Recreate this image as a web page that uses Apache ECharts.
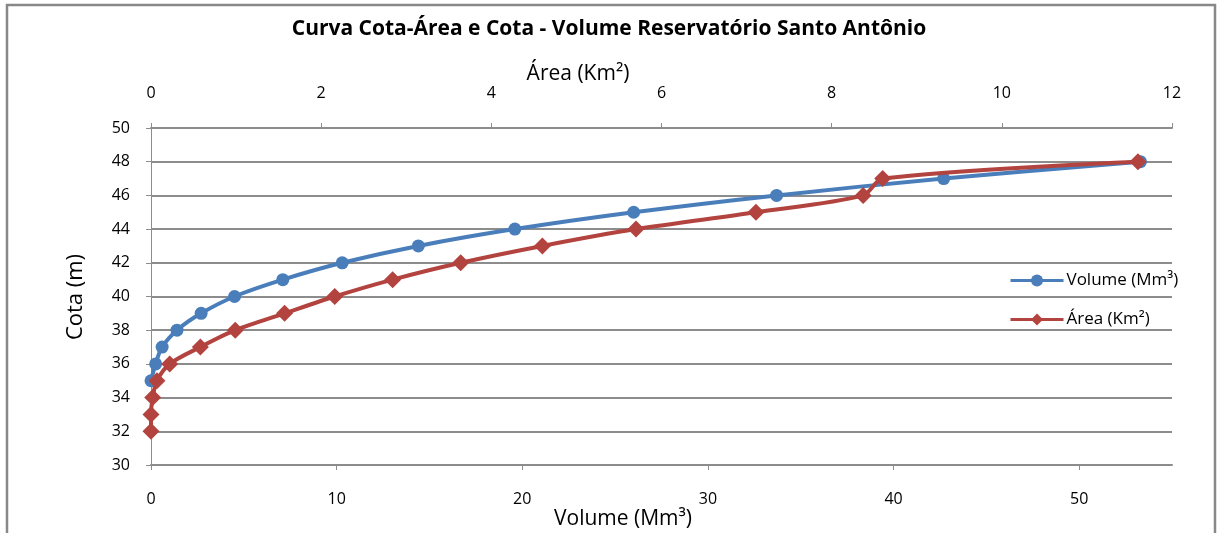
<!DOCTYPE html>
<html>
<head>
<meta charset="utf-8">
<script src="https://cdn.jsdelivr.net/npm/echarts@6/dist/echarts.min.js"></script>
<style>
html,body{margin:0;padding:0;background:#fff;}
#chart{width:1218px;height:533px;}
</style>
</head>
<body>
<div id="chart"></div>
<script>
const titleText = 'Curva Cota-Área e Cota - Volume Reservatório Santo Antônio';
const volumeName = 'Volume (Mm³)';
const areaName = 'Área (Km²)';
const cotaName = 'Cota (m)';

const volumeCota = [35, 36, 37, 38, 39, 40, 41, 42, 43, 44, 45, 46, 47, 48];
const volumeValues = [0.0, 0.25, 0.6, 1.4, 2.7, 4.5, 7.1, 10.3, 14.4, 19.6, 26.0, 33.7, 42.7, 53.3];

const areaCota = [32, 33, 34, 35, 36, 37, 38, 39, 40, 41, 42, 43, 44, 45, 46, 47, 48];
const areaValues = [0.0, 0.0, 0.02, 0.07, 0.22, 0.58, 0.99, 1.57, 2.16, 2.84, 3.64, 4.6, 5.7, 7.11, 8.37, 8.6, 11.6];

const gridColor = '#8c8c8c';
const fontFam = '"Open Sans", "DejaVu Sans", sans-serif';

const chart = echarts.init(document.getElementById('chart'));
chart.setOption({
  animation: false,
  backgroundColor: '#fff',
  title: {
    text: titleText,
    left: 'center',
    top: 14,
    textStyle: {fontFamily: fontFam, fontSize: 21, fontWeight: 'bold', color: '#000'}
  },
  legend: {
    orient: 'vertical',
    left: 1004,
    top: 267,
    itemGap: 22,
    itemWidth: 53,
    itemHeight: 15,
    lineStyle: {width: 3},
    textStyle: {fontFamily: fontFam, fontSize: 17, color: '#000', padding: [0, 0, 0, -2]},
    data: [volumeName, areaName]
  },
  grid: {left: 151, right: 46, top: 128, bottom: 68, containLabel: false},
  xAxis: [
    {
      type: 'value', position: 'bottom', min: 0, max: 55, interval: 10,
      axisLine: {show: true, lineStyle: {color: gridColor, width: 2}},
      axisTick: {show: true, length: 5, lineStyle: {color: gridColor, width: 1}},
      axisLabel: {fontFamily: fontFam, fontSize: 16, color: '#000', margin: 26, showMaxLabel: false},
      splitLine: {show: false}
    },
    {
      type: 'value', position: 'top', min: 0, max: 12, interval: 2,
      axisLine: {show: true, lineStyle: {color: gridColor, width: 2}},
      axisTick: {show: true, length: 5, lineStyle: {color: gridColor, width: 1}},
      axisLabel: {fontFamily: fontFam, fontSize: 16, color: '#000', margin: 27},
      splitLine: {show: false}
    }
  ],
  yAxis: {
    type: 'value', min: 30, max: 50, interval: 2,
    axisLine: {show: true, lineStyle: {color: gridColor, width: 1}},
    axisTick: {show: true, length: 5, lineStyle: {color: gridColor, width: 1}},
    axisLabel: {fontFamily: fontFam, fontSize: 16, color: '#000', margin: 21},
    splitLine: {show: true, lineStyle: {color: gridColor, width: 2}}
  },
  graphic: [
    {type: 'rect', shape: {x: 7, y: 5, width: 1208, height: 540}, style: {fill: 'none', stroke: '#888', lineWidth: 2.5}, silent: true, z: -1},
    {type: 'text', x: 578, y: 74, style: {text: areaName, font: '21px ' + fontFam, fill: '#000', textAlign: 'center', textVerticalAlign: 'middle'}},
    {type: 'text', x: 623, y: 519, style: {text: volumeName, font: '21px ' + fontFam, fill: '#000', textAlign: 'center', textVerticalAlign: 'middle'}},
    {type: 'text', x: 76, y: 297, rotation: Math.PI / 2, style: {text: cotaName, font: '22px ' + fontFam, fill: '#000', textAlign: 'center', textVerticalAlign: 'middle'}}
  ],
  series: [
    {
      name: volumeName, type: 'line', xAxisIndex: 0, smooth: 0.35,
      data: volumeValues.map((v, i) => [v, volumeCota[i]]),
      symbol: 'circle', symbolSize: 13,
      lineStyle: {color: '#4a7ebb', width: 4},
      itemStyle: {color: '#4a7ebb'},
      z: 2
    },
    {
      name: areaName, type: 'line', xAxisIndex: 1, smooth: 0.3,
      data: areaValues.map((v, i) => [v, areaCota[i]]),
      symbol: 'diamond', symbolSize: 17,
      lineStyle: {color: '#b3433f', width: 4},
      itemStyle: {color: '#b3433f'},
      z: 3
    }
  ]
});
</script>
</body>
</html>
